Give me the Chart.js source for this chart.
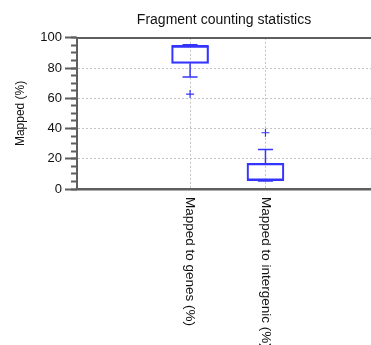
<!DOCTYPE html>
<html>
<head>
<meta charset="utf-8">
<script src="https://cdn.jsdelivr.net/npm/chart.js@4/dist/chart.umd.min.js"></script>
<style>
  html, body { margin:0; padding:0; background:#fff; }
  #wrap { width:371px; height:345px; }
</style>
</head>
<body>
<div id="wrap"><canvas id="c" width="371" height="345"></canvas></div>
<script>
// ---- values ----
const categories  = ['Mapped to genes (%)', 'Mapped to intergenic (%)'];
const catPos      = [1.5, 2.5];          // where each box sits on the x range
const xMax        = 3.9;                 // plot is cut off at the right edge
const whiskerLow  = [74.0, 5.3];
const q1          = [83.1, 5.8];
const median      = [94.7, 5.8];
const q3          = [94.7, 17.0];
const whiskerHigh = [95.4, 26.2];
const outliers    = [[62.8], [37.2]];
const yTicks      = [0, 20, 40, 60, 80, 100];

const BLUE = '#3434ff';
const AXIS = '#5e5e5e';
const GRID = '#c4c4c4';
const FONT = '"Liberation Sans", Arial, sans-serif';

const datasets = [];

// boxes (floating bars q1..q3)
datasets.push({
  type: 'bar', xAxisID: 'x', yAxisID: 'y',
  data: catPos.map((x, i) => ({ x, y: [q1[i], q3[i]] })),
  backgroundColor: 'rgba(0,0,0,0)', borderColor: BLUE, borderWidth: 1.5,
  borderSkipped: false, barThickness: 37
});

// whiskers
catPos.forEach((x, i) => {
  datasets.push({
    type: 'line', xAxisID: 'x', yAxisID: 'y',
    data: [{ x, y: q3[i] }, { x, y: whiskerHigh[i] }],
    borderColor: BLUE, borderWidth: 1.5, pointRadius: 0
  });
  datasets.push({
    type: 'line', xAxisID: 'x', yAxisID: 'y',
    data: [{ x, y: whiskerLow[i] }, { x, y: q1[i] }],
    borderColor: BLUE, borderWidth: 1.5, pointRadius: 0
  });
});

// whisker caps
datasets.push({
  type: 'scatter', xAxisID: 'x', yAxisID: 'y',
  data: catPos.flatMap((x, i) => [{ x, y: whiskerLow[i] }, { x, y: whiskerHigh[i] }]),
  pointStyle: 'line', pointRadius: 7.5, pointHoverRadius: 7.5,
  pointBorderColor: BLUE, pointBorderWidth: 1.5
});

// medians
datasets.push({
  type: 'scatter', xAxisID: 'x', yAxisID: 'y',
  data: catPos.map((x, i) => ({ x, y: median[i] })),
  pointStyle: 'line', pointRadius: 18.5, pointHoverRadius: 18.5,
  pointBorderColor: BLUE, pointBorderWidth: 1.5
});

// outliers
datasets.push({
  type: 'scatter', xAxisID: 'x', yAxisID: 'y',
  data: catPos.flatMap((x, i) => outliers[i].map(y => ({ x, y }))),
  pointStyle: 'cross', pointRadius: 4, pointHoverRadius: 4,
  pointBorderColor: BLUE, pointBorderWidth: 1.2
});

// category labels, rotated clockwise (reads top to bottom)
const xLabels = {
  id: 'xLabels',
  afterDraw(chart) {
    const { ctx, scales: { x } } = chart;
    ctx.save();
    ctx.font = '13.5px ' + FONT;
    ctx.fillStyle = '#111';
    ctx.textAlign = 'left';
    ctx.textBaseline = 'middle';
    catPos.forEach((v, i) => {
      ctx.save();
      ctx.translate(x.getPixelForValue(v), x.top + 8);
      ctx.rotate(Math.PI / 2);
      ctx.fillText(categories[i], 0, 0);
      ctx.restore();
    });
    ctx.restore();
  }
};

new Chart(document.getElementById('c'), {
  type: 'bar',
  data: { datasets },
  plugins: [xLabels],
  options: {
    responsive: false,
    animation: false,
    layout: { autoPadding: false, padding: 0 },
    plugins: {
      legend: { display: false },
      tooltip: { enabled: false },
      title: {
        display: true, fullSize: false,
        text: 'Fragment counting statistics',
        color: '#111',
        font: { family: FONT, size: 14, weight: 'normal' },
        padding: { top: 12, bottom: 9 }
      }
    },
    scales: {
      x: {
        type: 'linear', position: 'bottom', min: 0, max: xMax, offset: false,
        afterBuildTicks: s => { s.ticks = catPos.map(v => ({ value: v })); },
        afterFit: s => { s.height = 156; },
        ticks: { display: false },
        grid: { offset: false, color: GRID, lineWidth: 1, drawTicks: false },
        border: { color: AXIS, width: 2.5, dash: [2, 2] }
      },
      xTop: {
        type: 'linear', axis: 'x', position: 'top', min: 0, max: xMax,
        afterFit: s => { s.height = 0; },
        ticks: { display: false },
        grid: { display: false, drawTicks: false },
        border: { color: AXIS, width: 2 }
      },
      y: {
        type: 'linear', position: 'left', min: 0, max: 100, weight: 1,
        afterBuildTicks: s => { s.ticks = yTicks.map(v => ({ value: v })); },
        afterFit: s => { s.width = 77; },
        ticks: { color: '#111', font: { family: FONT, size: 13 }, padding: 3 },
        grid: {
          color: c => (c.tick && (c.tick.value === 0 || c.tick.value === 100)) ? 'rgba(0,0,0,0)' : GRID,
          lineWidth: 1, tickLength: 12, tickColor: AXIS, tickWidth: 2
        },
        border: { color: AXIS, width: 2, dash: [2, 2] },
        title: {
          display: true, text: 'Mapped (%)', color: '#111',
          font: { family: FONT, size: 12 }, padding: { top: 13, bottom: 0 }
        }
      },
      yMinor: {
        type: 'linear', axis: 'y', position: 'left', min: 0, max: 100, weight: 0,
        afterFit: s => { s.width = 0; },
        ticks: { display: false, stepSize: 5 },
        grid: { drawOnChartArea: false, tickLength: 6, tickColor: AXIS, tickWidth: 2 },
        border: { display: false }
      }
    }
  }
});
</script>
</body>
</html>
